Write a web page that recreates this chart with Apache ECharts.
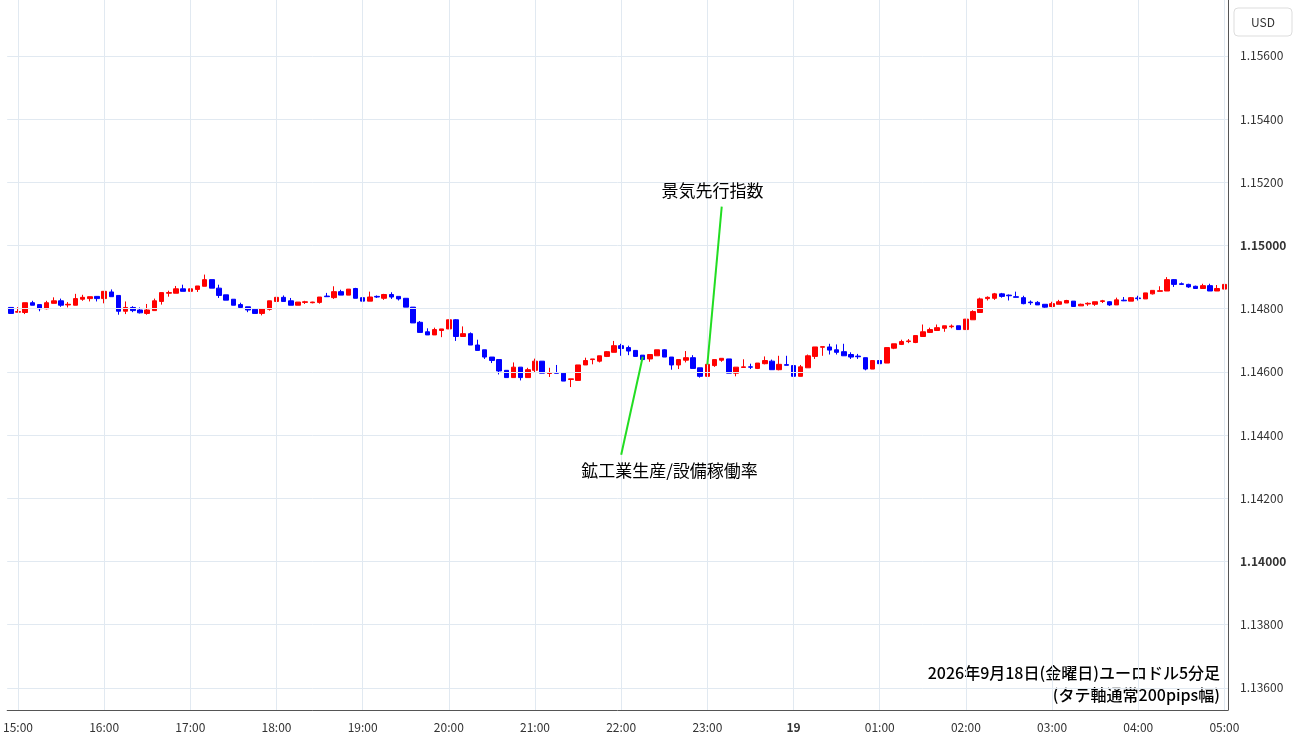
<!DOCTYPE html>
<html><head><meta charset="utf-8">
<script src="https://cdn.jsdelivr.net/npm/echarts@6/dist/echarts.min.js"></script>
<style>html,body{margin:0;padding:0;background:#fff}#c{width:1300px;height:745px}</style>
</head><body><div id="c"></div>
<script>
// [open, close, low, high]
const candles = [
[1.14804,1.14785,1.14785,1.14804],[1.14789,1.14791,1.14789,1.14805],[1.14788,1.14819,1.14783,1.14819],[1.14819,1.14811,1.14811,1.14825],
[1.14813,1.14800,1.14792,1.14813],[1.14800,1.14819,1.14798,1.14825],[1.14817,1.14825,1.14817,1.14836],[1.14825,1.14811,1.14806,1.14832],
[1.14812,1.14814,1.14804,1.14821],[1.14811,1.14832,1.14811,1.14847],[1.14830,1.14836,1.14825,1.14844],[1.14832,1.14838,1.14823,1.14838],
[1.14839,1.14832,1.14823,1.14839],[1.14832,1.14855,1.14817,1.14855],[1.14853,1.14838,1.14838,1.14861],[1.14842,1.14792,1.14781,1.14842],
[1.14792,1.14804,1.14783,1.14823],[1.14804,1.14794,1.14789,1.14808],[1.14796,1.14787,1.14785,1.14804],[1.14785,1.14796,1.14781,1.14815],
[1.14794,1.14825,1.14794,1.14832],[1.14823,1.14851,1.14813,1.14851],[1.14849,1.14851,1.14838,1.14857],[1.14849,1.14863,1.14849,1.14872],
[1.14863,1.14855,1.14855,1.14876],[1.14855,1.14863,1.14849,1.14863],[1.14861,1.14872,1.14853,1.14872],[1.14871,1.14892,1.14871,1.14908],
[1.14892,1.14865,1.14865,1.14892],[1.14865,1.14842,1.14834,1.14876],[1.14844,1.14827,1.14827,1.14844],[1.14830,1.14811,1.14811,1.14830],
[1.14813,1.14804,1.14804,1.14819],[1.14806,1.14796,1.14789,1.14806],[1.14798,1.14785,1.14785,1.14798],[1.14785,1.14800,1.14779,1.14800],
[1.14798,1.14825,1.14794,1.14825],[1.14823,1.14836,1.14815,1.14836],[1.14836,1.14823,1.14823,1.14842],[1.14825,1.14811,1.14811,1.14834],
[1.14811,1.14821,1.14811,1.14821],[1.14820,1.14822,1.14815,1.14825],[1.14819,1.14821,1.14817,1.14822],[1.14820,1.14837,1.14816,1.14837],
[1.14840,1.14838,1.14838,1.14850],[1.14835,1.14854,1.14831,1.14871],[1.14854,1.14843,1.14843,1.14860],[1.14843,1.14862,1.14843,1.14862],
[1.14864,1.14833,1.14833,1.14866],[1.14835,1.14824,1.14824,1.14850],[1.14824,1.14837,1.14824,1.14854],[1.14839,1.14837,1.14834,1.14842],
[1.14833,1.14845,1.14828,1.14847],[1.14845,1.14837,1.14831,1.14852],[1.14839,1.14831,1.14826,1.14839],[1.14833,1.14805,1.14805,1.14833],
[1.14805,1.14755,1.14755,1.14805],[1.14757,1.14725,1.14725,1.14761],[1.14727,1.14717,1.14717,1.14738],[1.14717,1.14734,1.14717,1.14740],
[1.14731,1.14736,1.14710,1.14736],[1.14736,1.14765,1.14736,1.14765],[1.14765,1.14712,1.14698,1.14767],[1.14712,1.14721,1.14712,1.14744],
[1.14721,1.14685,1.14685,1.14725],[1.14685,1.14668,1.14668,1.14702],[1.14670,1.14647,1.14641,1.14670],[1.14647,1.14636,1.14628,1.14647],
[1.14639,1.14603,1.14592,1.14639],[1.14605,1.14582,1.14582,1.14605],[1.14582,1.14615,1.14582,1.14630],[1.14615,1.14582,1.14573,1.14615],
[1.14582,1.14607,1.14582,1.14613],[1.14605,1.14634,1.14599,1.14642],[1.14634,1.14596,1.14596,1.14634],[1.14595,1.14597,1.14584,1.14613],
[1.14597,1.14596,1.14596,1.14622],[1.14596,1.14571,1.14571,1.14596],[1.14576,1.14578,1.14552,1.14578],[1.14573,1.14622,1.14573,1.14622],
[1.14622,1.14636,1.14622,1.14645],[1.14639,1.14641,1.14624,1.14641],[1.14634,1.14651,1.14630,1.14651],[1.14649,1.14664,1.14647,1.14666],
[1.14662,1.14683,1.14662,1.14698],[1.14683,1.14674,1.14651,1.14689],[1.14677,1.14666,1.14653,1.14683],[1.14668,1.14649,1.14649,1.14668],
[1.14653,1.14639,1.14639,1.14653],[1.14641,1.14655,1.14632,1.14655],[1.14651,1.14670,1.14651,1.14670],[1.14670,1.14647,1.14647,1.14672],
[1.14647,1.14622,1.14607,1.14647],[1.14622,1.14639,1.14609,1.14639],[1.14637,1.14645,1.14630,1.14666],[1.14645,1.14611,1.14611,1.14653],
[1.14613,1.14586,1.14582,1.14613],[1.14586,1.14624,1.14586,1.14624],[1.14620,1.14639,1.14616,1.14639],[1.14637,1.14643,1.14632,1.14643],
[1.14641,1.14596,1.14596,1.14641],[1.14596,1.14615,1.14586,1.14615],[1.14614,1.14616,1.14614,1.14640],[1.14616,1.14615,1.14609,1.14626],
[1.14611,1.14628,1.14609,1.14628],[1.14626,1.14636,1.14624,1.14649],[1.14634,1.14607,1.14607,1.14639],[1.14607,1.14624,1.14605,1.14651],
[1.14623,1.14621,1.14621,1.14651],[1.14620,1.14586,1.14586,1.14624],[1.14586,1.14616,1.14586,1.14622],[1.14613,1.14651,1.14613,1.14655],
[1.14649,1.14679,1.14641,1.14679],[1.14678,1.14680,1.14651,1.14680],[1.14679,1.14669,1.14655,1.14689],[1.14670,1.14662,1.14655,1.14687],
[1.14664,1.14651,1.14651,1.14689],[1.14655,1.14647,1.14641,1.14662],[1.14650,1.14648,1.14641,1.14657],[1.14645,1.14609,1.14605,1.14645],
[1.14609,1.14636,1.14609,1.14636],[1.14636,1.14626,1.14622,1.14641],[1.14628,1.14677,1.14628,1.14677],[1.14675,1.14689,1.14672,1.14689],
[1.14687,1.14696,1.14685,1.14702],[1.14696,1.14698,1.14691,1.14704],[1.14693,1.14715,1.14691,1.14715],[1.14712,1.14727,1.14712,1.14750],
[1.14725,1.14734,1.14723,1.14740],[1.14731,1.14740,1.14731,1.14750],[1.14738,1.14746,1.14727,1.14746],[1.14743,1.14745,1.14738,1.14750],
[1.14746,1.14734,1.14734,1.14746],[1.14734,1.14767,1.14734,1.14767],[1.14765,1.14791,1.14765,1.14795],[1.14788,1.14831,1.14788,1.14835],
[1.14832,1.14836,1.14826,1.14839],[1.14833,1.14847,1.14828,1.14850],[1.14847,1.14839,1.14835,1.14850],[1.14843,1.14841,1.14826,1.14845],
[1.14838,1.14836,1.14836,1.14854],[1.14835,1.14816,1.14814,1.14841],[1.14821,1.14819,1.14812,1.14826],[1.14820,1.14812,1.14812,1.14824],
[1.14814,1.14805,1.14803,1.14814],[1.14807,1.14816,1.14805,1.14822],[1.14814,1.14822,1.14814,1.14828],[1.14818,1.14826,1.14818,1.14828],
[1.14824,1.14807,1.14807,1.14824],[1.14809,1.14814,1.14809,1.14816],[1.14815,1.14817,1.14809,1.14820],[1.14814,1.14822,1.14809,1.14822],
[1.14823,1.14825,1.14818,1.14828],[1.14822,1.14812,1.14809,1.14824],[1.14812,1.14828,1.14812,1.14835],[1.14827,1.14825,1.14824,1.14837],
[1.14824,1.14835,1.14824,1.14837],[1.14834,1.14832,1.14826,1.14841],[1.14831,1.14850,1.14831,1.14850],[1.14847,1.14858,1.14845,1.14858],
[1.14855,1.14857,1.14855,1.14871],[1.14856,1.14892,1.14856,1.14900],[1.14892,1.14877,1.14869,1.14894],[1.14879,1.14877,1.14875,1.14883],
[1.14877,1.14869,1.14866,1.14879],[1.14871,1.14864,1.14864,1.14873],[1.14864,1.14873,1.14864,1.14879],[1.14873,1.14856,1.14856,1.14879],
[1.14856,1.14864,1.14856,1.14875],[1.14862,1.14877,1.14862,1.14881]
];
// 5-minute bars starting 14:55
const times = [];
for (let i = 0; i < candles.length; i++) {
  const m = (14 * 60 + 55 + i * 5) % (24 * 60);
  times.push(String(Math.floor(m / 60)).padStart(2, '0') + ':' + String(m % 60).padStart(2, '0'));
}
const priceTicks = [1.136,1.138,1.140,1.142,1.144,1.146,1.148,1.150,1.152,1.154,1.156];
const boldTicks = [1.140,1.150];
const hourTicks = times.filter(t => t.endsWith(':00'));
const events = [
  {name:'景気先行指数', from:[97,1.14623], to:[99,1.15123], pad:[0,20,0,0]},
  {name:'鉱工業生産/設備稼働率', from:[88,1.14648], to:[85,1.14338], pad:[0,0,0,100]}
];
const titleLines = ['2026年9月18日(金曜日)ユーロドル5分足','(タテ軸通常200pips幅)'];

const chart = echarts.init(document.getElementById('c'));
const FONT = '"Noto Sans CJK JP","Noto Sans",sans-serif';
chart.setOption({
  animation:false,
  textStyle:{fontFamily:FONT},
  grid:{left:2,right:72,top:0,bottom:35},
  xAxis:{type:'category',data:times,boundaryGap:true,
    axisLine:{lineStyle:{color:'#555'}},axisTick:{show:false},splitLine:{show:false},
    axisLabel:{interval:(i,v)=>v.endsWith(':00'),color:'#333',fontSize:12,margin:11,
      formatter:v=>v==='00:00'?'{b|19}':v,rich:{b:{fontWeight:'bold',fontSize:12,color:'#333'}}}},
  yAxis:{type:'value',position:'right',min:1.1353,max:1.15777,scale:true,
    axisLine:{show:true,lineStyle:{color:'#555'}},axisLabel:{show:false},axisTick:{show:false},splitLine:{show:false}},
  graphic:[
    {type:'rect',shape:{x:1234,y:8,width:58,height:28,r:4},style:{fill:'#fff',stroke:'#ddd'}},
    {type:'text',x:1263,y:22,style:{text:'USD',align:'center',verticalAlign:'middle',fontSize:12,fill:'#333',fontFamily:FONT}},
    ...titleLines.map((t,i)=>({type:'text',right:80,top:665+i*22,style:{text:t,fontSize:16,fill:'#000',fontFamily:FONT,fontWeight:500}}))
  ],
  series:[
    {type:'line',data:[],z:1,silent:true,
      markLine:{symbol:'none',silent:true,animation:false,precision:5,
        lineStyle:{color:'#e1e9f1',type:'solid',width:1},
        data:[
          ...priceTicks.map(v=>({yAxis:v,label:{show:true,position:'end',distance:12,
             formatter:v.toFixed(5),color:'#333',fontSize:12,fontWeight:boldTicks.some(b=>Math.abs(b-v)<1e-9)?'bold':'normal'}})),
          ...hourTicks.map(t=>({xAxis:t,label:{show:false}}))
        ]}},
    {type:'candlestick',data:candles,z:3,barWidth:5,
      itemStyle:{color:'#ff0000',color0:'#0000ff',borderColor:'#ff0000',borderColor0:'#0000ff',borderWidth:1},
      markLine:{symbol:'none',silent:true,animation:false,precision:5,
        lineStyle:{color:'#22dd22',width:2,type:'solid'},
        data:events.map(e=>[
          {coord:e.from},
          {coord:e.to,label:{show:true,position:'end',formatter:e.name,color:'#000',fontSize:17,distance:8,padding:e.pad}}
        ])}}
  ]
});
</script></body></html>
